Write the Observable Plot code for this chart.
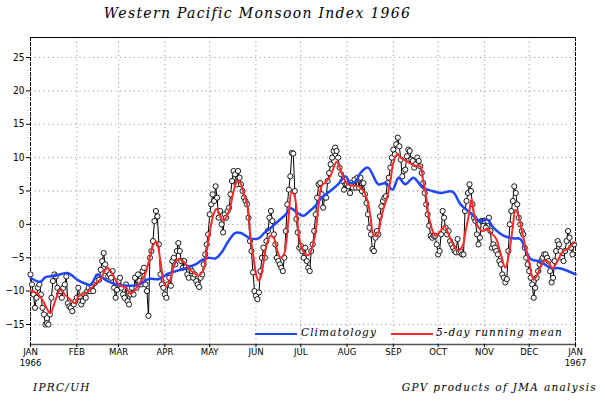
<!DOCTYPE html>
<html><head><meta charset="utf-8">
<script src="https://cdn.jsdelivr.net/npm/d3@7"></script>
<script src="https://cdn.jsdelivr.net/npm/@observablehq/plot@0.6"></script>
<style>
html,body{margin:0;padding:0;background:#fff}
body{width:605px;height:403px;position:relative;overflow:hidden}
#title{position:absolute;left:0;top:5px;width:515px;text-align:center;font:italic 14px "DejaVu Serif",serif;letter-spacing:1.3px;color:#000}
#chart{position:absolute;left:0;top:30px}
.lg{position:absolute;font:italic 10.5px "DejaVu Serif",serif;letter-spacing:1.1px;color:#000;white-space:nowrap}
.ln{position:absolute;height:2px}
.ft{position:absolute;top:381px;font:italic 10.5px "DejaVu Serif",serif;letter-spacing:1.3px;color:#000;white-space:nowrap}
</style></head>
<body>
<div id="title">Western Pacific Monsoon Index 1966</div>
<div id="chart"></div>
<div class="ln" style="left:255px;top:333px;width:42px;background:#1f45ff"></div>
<div class="lg" style="left:301px;top:326px">Climatology</div>
<div class="ln" style="left:391px;top:333px;width:42px;background:#ff2a2a"></div>
<div class="lg" style="left:436px;top:326px">5-day running mean</div>
<div class="ft" style="left:33px">IPRC/UH</div>
<div class="ft" style="right:8px">GPV products of JMA analysis</div>
<script>
// ---- daily index values (one per day, Jan 1 .. Dec 31, 1966) ----
const jan = [-7.5,-9,-10.5,-12.5,-11,-9.5,-9,-10.5,-12.5,-13.5,-15,-14.8,-15,-13.5,-11,-8.5,-7.5,-7.8,-9.5,-10.5,-10,-11,-9.5,-9,-7.8,-11.8,-12.3,-12.5,-13,-12,-11.5];
const feb = [-11,-9.5,-10.8,-12,-11.5,-10.5,-11,-10,-9.5,-10,-9.2,-10,-8.8,-8.5,-7.8,-8.3,-6.8,-5.5,-4.3,-6,-7,-7.8,-7.5,-8,-7,-9.5,-11,-9.8];
const mar = [-8.5,-8,-9.5,-10.5,-11,-9,-11.5,-12,-10.5,-9.5,-10.5,-8,-9.5,-7.5,-8.5,-9,-7,-6.5,-9,-10,-13.7,-5,-4,-2.5,0.5,2,1.2,-3,-7.5,-9,-9.5];
const apr = [-10.5,-11,-9,-8,-9.2,-5.5,-5,-6,-4,-2.8,-4,-5.5,-6.5,-5.5,-6.4,-7.5,-8,-6.5,-7,-8,-7.5,-8.5,-9,-9.4,-8,-7.5,-6,-4.5,-3,-1.5];
const may = [1.5,3,4.5,3.5,5.7,4,1,2,0,-1.2,1.5,1,2,2.5,4.5,6.5,8,7.5,6,8,7,6,5,4,3.5,3,1,-2.5,-4,-7.2,-10];
const jun = [-10.7,-11.2,-10.2,-7,-5,-3.5,-5,-2.5,-1,1,2,0.5,-1.5,-3,-5,-5.5,-6,-6.5,-7,-5,-1,3,5.2,7.2,10.7,10.6,5,0.8,-1.2,-3.5];
const jul = [-3.2,-4,-5,-3.5,-5.5,-6.5,-7,-4,-3,-1,1.5,4,6,6.2,4.5,2.5,4,4,6.5,7.7,9,10,11,11.5,11,10,8.5,7.5,6.5,5.2,6];
const aug = [6,5.7,4.7,6.2,5.5,6.7,5.5,7,5.5,7,5,6.2,4.5,3.2,1.5,-0.5,-1.5,-3.7,-4,-2,-1,-1.5,1.2,2.7,3.5,4,4.2,6.2,7,8.5,10];
const sep = [11.2,10.5,12,13,11.7,9.7,7.2,8,8.2,10.2,11.2,11,9.7,9.5,8.5,9,10,9.5,8.7,7.7,6.2,4.7,3,1.5,-0.2,-1.7,-2,-1.7,-1.7,-3];
const oct = [-4.5,-4,-1.5,2,1,-0.5,-1.5,-1,-2.5,-3,-3.5,-4,-4.2,-2.2,-4.2,-4,-4.5,-4.5,2,3.5,4.7,6,5,3,1,0.5,-1.5,-3,-2,0.5,0.5];
const nov = [0.5,-0.5,0.5,1,-1,-3.5,-3,-3.5,-4,-4.5,-5.5,-6,-7.5,-8,-8.7,-8.2,-4,0,2,3.5,5.7,4.7,3,1,0,-1,-1.5,-3.5,-5,-6];
const dec = [-7,-8,-9,-11,-9.5,-8,-7,-6,-5.5,-5,-4.5,-4.5,-5,-5.5,-7,-8.7,-8,-5.5,-4,-2.5,-3,-4,-5,-5.5,-4,-2.5,-1,-2,-3.5,-4.5,-3];

// ---- 5-day running mean (day of year from Jan 1) ----
const meanDay = [0,4.7,8.7,11.4,13.4,15.4,18,20,23.4,26.8,30,32,35.5,40,43.5,47,49.6,51.6,53.6,57,60,63.6,67,70,73.7,75.7,77.7,80.4,82.4,84.4,87,89,91,93.8,95.8,99,102.5,106,109,112.5,116,118,120.6,122.6,124.6,127,129,131,134,136,138.6,140.6,142.7,145.6,147.4,149.4,151.4,152.7,154,156,158,160.7,162.8,164.8,167.4,169.5,170.8,172.8,174.8,176.8,179.5,181.5,184.2,186.2,188.2,191,193,195,197.6,201,203,205,207.6,209.6,213,216.4,219.7,223,225.7,227.7,229.7,232.4,234.4,236.4,239,241,243,245.8,247.8,251,254.5,257.9,261,263,264.6,266.6,269,271,274.6,277.3,280,282.6,284.7,286.7,289.4,291.4,293.4,295.4,296.7,299.4,302.7,306,308,311.5,314.8,318,320,322.8,324.8,326.8,330,333.6,337,339.6,343,346.3,349.6,353,356.4,360.4,363.7,365];
const meanVal = [-9.9,-10.4,-11.6,-12.8,-13.3,-12.2,-10.6,-9.8,-10.6,-11.3,-11.8,-10.8,-10.5,-9.8,-8.8,-8.2,-7,-6.5,-7,-8.3,-9.2,-9.4,-10.4,-9.8,-8.6,-8,-6.9,-4.5,-3,-2.6,-5.5,-8.4,-9.3,-8.2,-6.4,-5.2,-5.6,-6.6,-7.2,-7.7,-6.7,-4,-0.5,1.5,2.3,1.2,0.6,1.0,2.8,5,6.5,6.2,4.7,2.5,-2,-5,-7.8,-8.4,-8,-5.8,-3.2,-1.7,-2,-3.5,-5,-4.6,-3.5,0.7,4.8,4.3,-1.2,-3.5,-4.5,-4.6,-3.8,-1,3,5.8,6.3,7.3,8.5,9.4,8.2,7,5.9,5.8,5.7,5,3.5,1.2,-1.5,-1.7,0.5,2.3,4.2,6.5,9.2,10.6,10,9.6,9.1,8.8,8.7,6.5,4.8,1.4,-0.8,-1.7,-1,-0.3,-1.5,-2.8,-3.6,-3.9,-3.2,-1,1.2,3.8,2,-0.2,-1,-0.6,-1.2,-2,-4.3,-6.5,-5,-0.8,2.2,1.3,-2,-5.3,-8.3,-7.5,-5.7,-5.5,-6.6,-5.5,-4.1,-3.6,-2.8,-2.8];

// ---- climatology ----
const climDay = [0,6.7,10,16.7,24.8,32,37,40,45,51.6,58,65.6,72,79,86,92,99,106,110.5,114.5,119,124,128,132.6,137,141,147,152.7,157,161,166,171,174,179.5,183,186,191,195,199.6,206,211,214,218,221,226,233,238,242.5,246.5,251,256.5,262.6,269,274.6,282.6,288,294.7,301,306,310,316.8,323.5,328,335,341.6,348,355,365];
const climVal = [-8.0,-8.6,-7.9,-7.7,-7.3,-8.4,-8.9,-9.1,-7.6,-8.5,-9.0,-9.2,-9.1,-8.2,-8.2,-7.4,-6.9,-6.4,-6.0,-5.4,-5.0,-5.1,-4.2,-2.5,-1.3,-1.3,-2.1,-2.1,-1.2,-0.5,0.5,1.5,2.4,1.6,1.3,1.8,2.8,4.0,4.8,6.0,7.2,6.2,6.5,7.7,8.5,6.0,6.2,5.2,7.0,6.0,7.0,5.5,5.0,4.7,4.9,3.0,1.7,0.5,0.7,-0.5,-1.7,-2.1,-2.2,-5.2,-5.6,-6.5,-6.6,-7.5];

// ---- axis labels ----
const monthLabels = ["JAN","FEB","MAR","APR","MAY","JUN","JUL","AUG","SEP","OCT","NOV","DEC","JAN"];
const yearLabels = ["1966","1967"];
const yTicks = [-15,-10,-5,0,5,10,15,20,25];

const t0 = Date.UTC(1966,0,1);
const dayDate = d => new Date(t0 + d*86400000);
const daily = [jan,feb,mar,apr,may,jun,jul,aug,sep,oct,nov,dec].flat().map((v,i)=>({date:dayDate(i), v}));
const mean = meanDay.map((d,i)=>({date:dayDate(d), v:meanVal[i]}));
const clim = climDay.map((d,i)=>({date:dayDate(d), v:climVal[i]}));
const months = d3.range(13).map(m => new Date(Date.UTC(1966, m, 1)));
const years = [{date: months[0], t: yearLabels[0]}, {date: months[12], t: yearLabels[1]}];

const font = '"DejaVu Sans Condensed","Liberation Sans Narrow","Liberation Sans",sans-serif';
const chart = Plot.plot({
  width: 605, height: 345,
  marginLeft: 30, marginRight: 30, marginTop: 7, marginBottom: 31,
  style: {fontFamily: font, fontSize: "10px", background: "white", color: "#000", overflow: "visible"},
  x: {type: "utc", domain: [months[0], months[12]]},
  y: {domain: [-18, 28]},
  marks: [
    Plot.gridY(yTicks, {stroke: "#9a9a9a", strokeOpacity: 1, strokeDasharray: "1.2,3.3"}),
    Plot.gridX(months.slice(1, 12), {stroke: "#9a9a9a", strokeOpacity: 1, strokeDasharray: "1.2,3.3"}),
    Plot.frame({anchor: "top", stroke: "#000"}),
    Plot.frame({anchor: "bottom", stroke: "#555", strokeWidth: 1.5}),
    Plot.frame({anchor: "left", stroke: "#000", strokeDasharray: "3,2"}),
    Plot.frame({anchor: "right", stroke: "#000", strokeDasharray: "3,2"}),
    Plot.axisY(yTicks, {tickSize: 4, tickPadding: 2, label: null, fontSize: 10}),
    Plot.axisX(months, {tickSize: 3, tickPadding: 1, label: null, fontSize: 9.5,
      tickFormat: (d, i) => monthLabels[i]}),
    Plot.text(years, {x: "date", text: "t", frameAnchor: "bottom", lineAnchor: "top", dy: 15, fontSize: 9.5}),
    Plot.line(daily, {x: "date", y: "v", stroke: "#000", strokeWidth: 1}),
    Plot.dot(daily, {x: "date", y: "v", r: 2.6, fill: "white", stroke: "#000", strokeWidth: 0.9}),
    Plot.line(clim, {x: "date", y: "v", stroke: "#1f45ff", strokeWidth: 2.5, curve: "catmull-rom"}),
    Plot.line(mean, {x: "date", y: "v", stroke: "#ff2a2a", strokeWidth: 2, curve: "catmull-rom"})
  ]
});
document.getElementById("chart").appendChild(chart);
</script>
</body></html>
